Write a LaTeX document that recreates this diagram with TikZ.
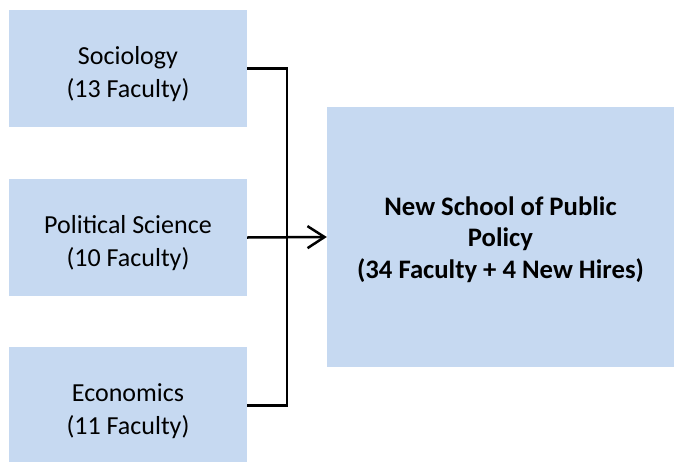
\documentclass[tikz,border=0pt]{standalone}
\usepackage{fontspec}
\setmainfont{Carlito}
\usetikzlibrary{arrows.meta}
\definecolor{boxblue}{HTML}{C6D9F1}
\begin{document}
\begin{tikzpicture}[x=1pt,y=-1pt,
  dept/.style={fill=boxblue, draw=none, minimum width=238pt, minimum height=117pt, inner sep=0pt},
  depttext/.style={inner sep=0pt, align=center, font=\fontsize{26}{33}\selectfont},
  school/.style={fill=boxblue, draw=none, minimum width=347pt, minimum height=260pt, inner sep=0pt},
  schooltext/.style={inner sep=0pt, align=center, font=\fontsize{26.7}{31.5}\selectfont\bfseries},
  link/.style={line width=2.5pt, draw=black}]
\useasboundingbox (0,0) rectangle (674,461);
\node[dept] (soc) at (128,68.5) {};
\node[dept] (pol) at (128,237.5) {};
\node[dept] (eco) at (128,405.5) {};
\node[school] (new) at (500.5,237) {};
\node[depttext] (socT) at ([yshift=-5.5pt]soc.center) {Sociology\\(13 Faculty)};
\node[depttext] (polT) at ([yshift=-5.5pt]pol.center) {Political Science\\(10 Faculty)};
\node[depttext] (ecoT) at ([yshift=-5.5pt]eco.center) {Economics\\(11 Faculty)};
\node[schooltext] (newT) at ([yshift=-2.5pt]new.center) {New School of Public\\Policy\\(34 Faculty + 4 New Hires)};
\draw[link] (soc.east) -- ++(40,0) |- (eco.east);
\draw[link, -{Straight Barb[length=17pt,width=22pt,line width=2.5pt]}] (pol.east) -- (new.west);
\end{tikzpicture}
\end{document}
